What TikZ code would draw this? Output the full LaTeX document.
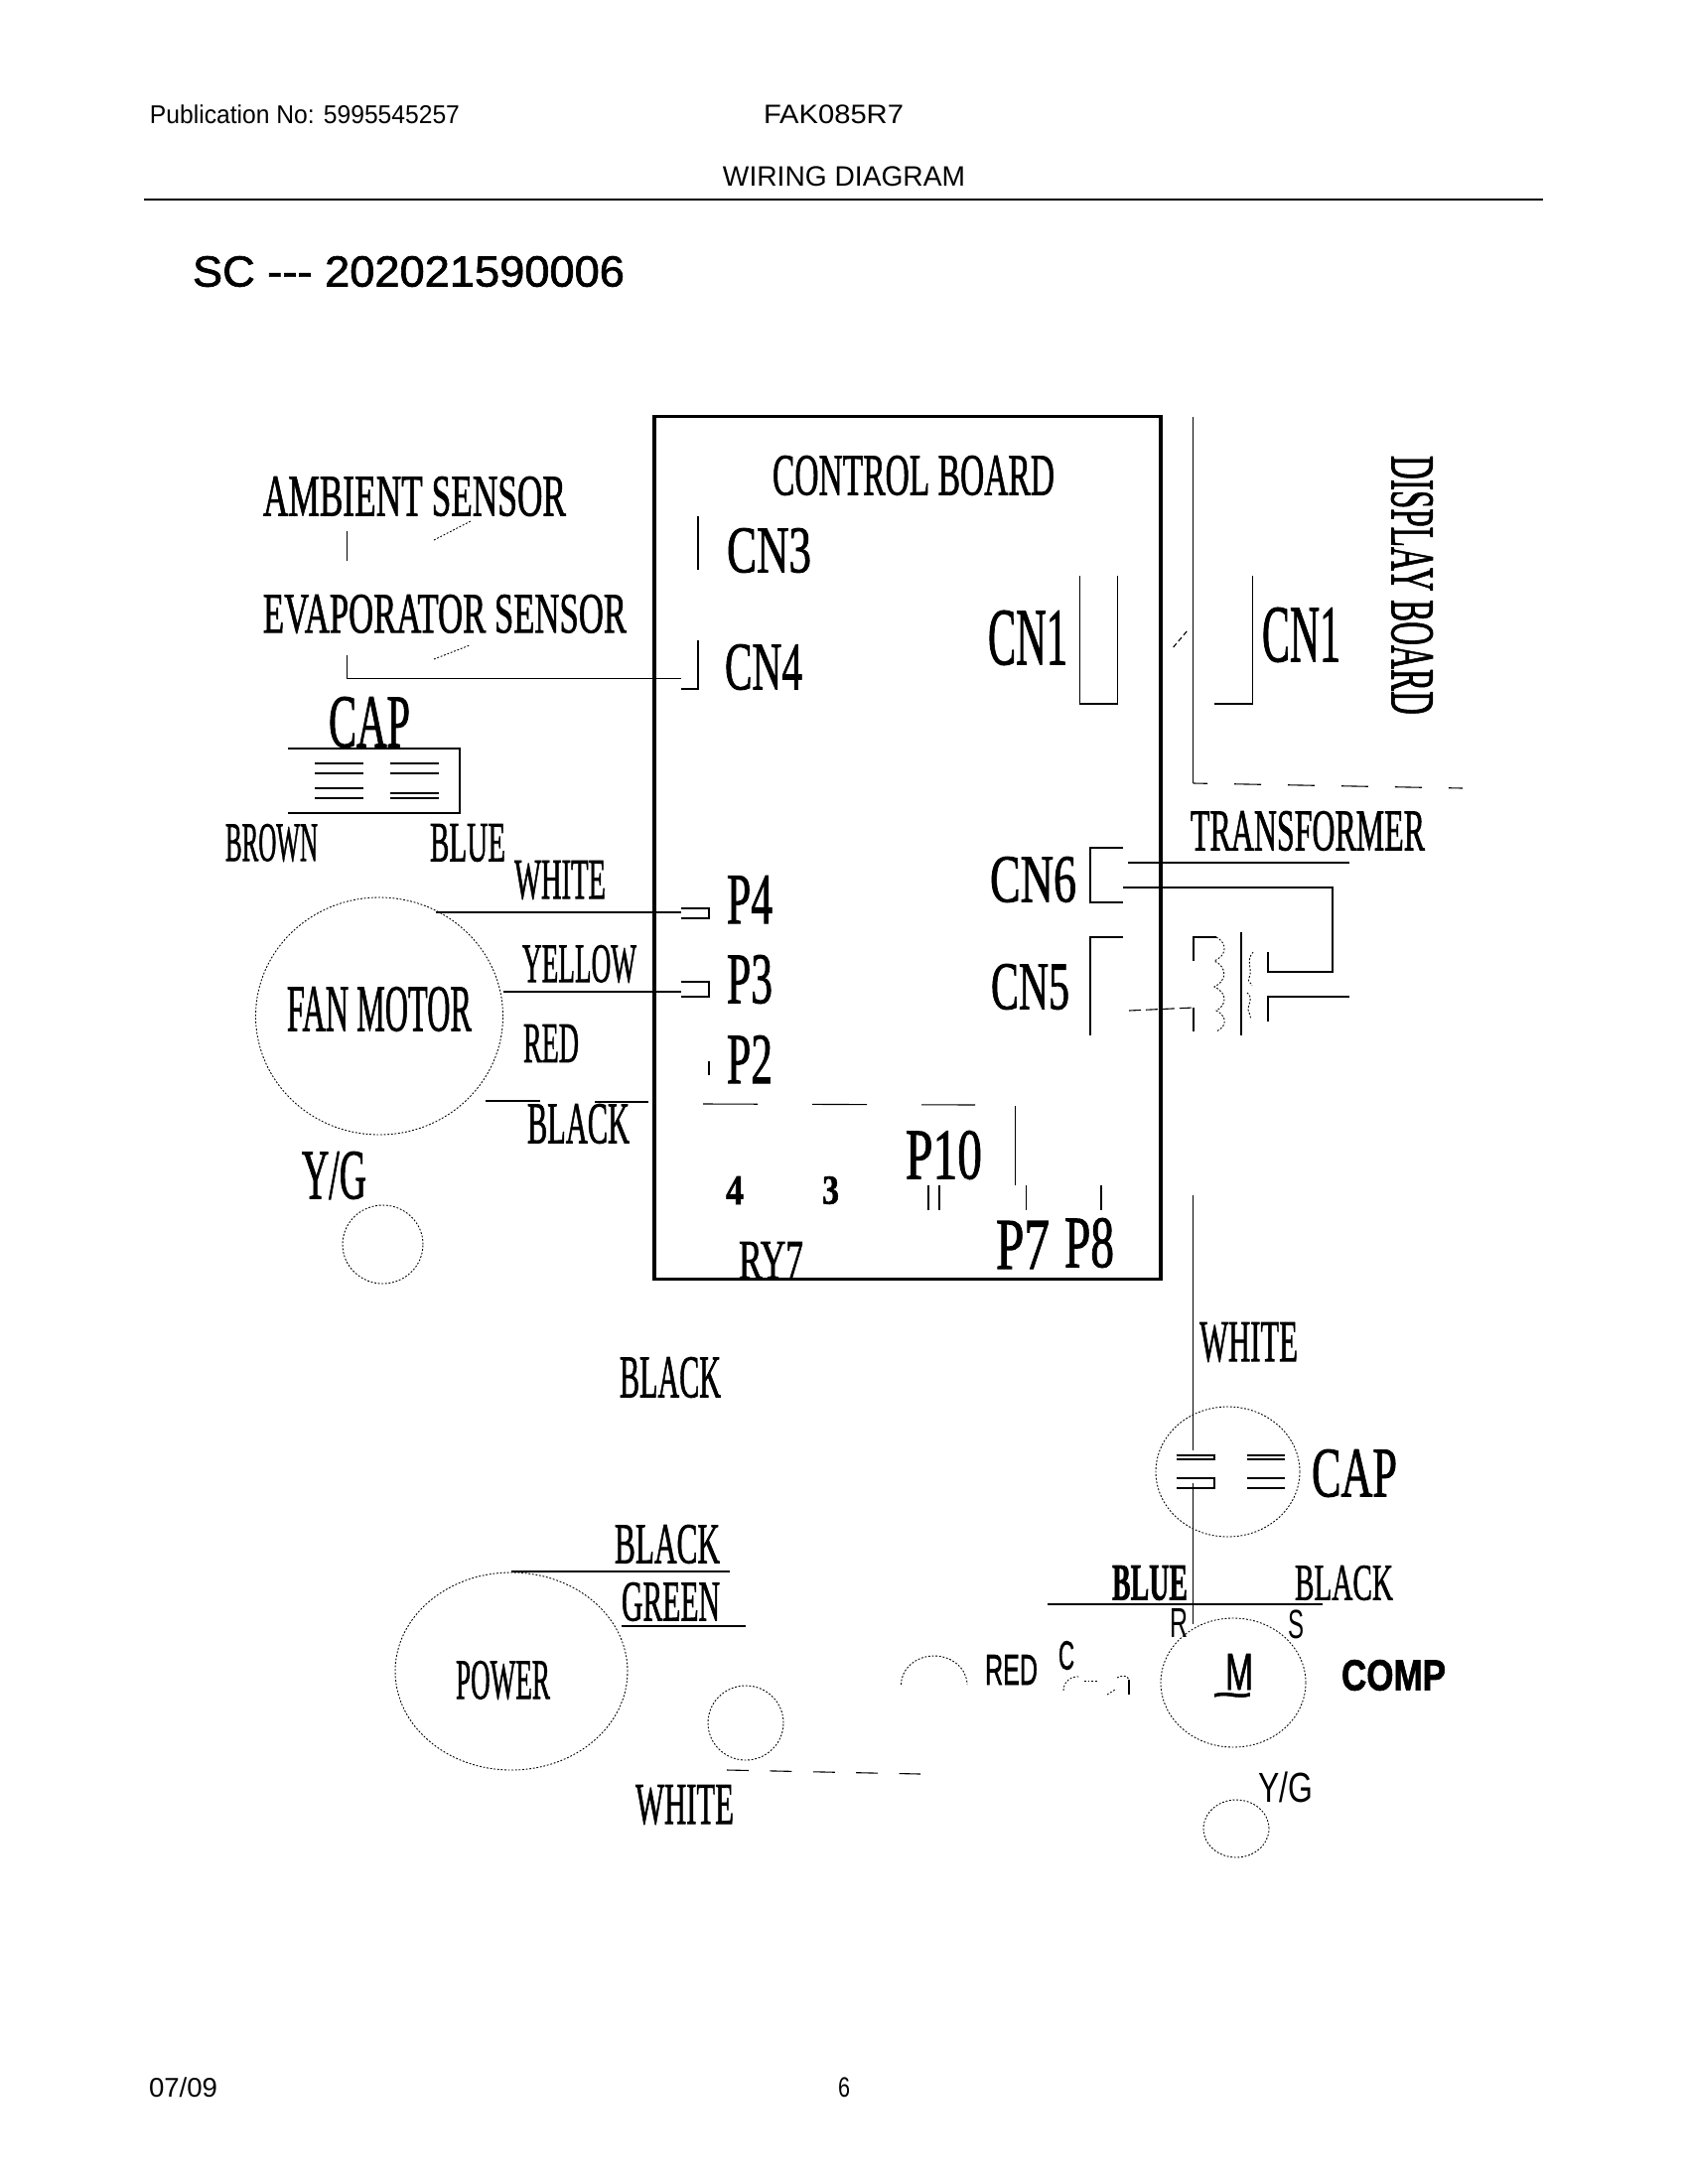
\documentclass[tikz,border=0pt]{standalone}
\usepackage{fontspec}
\usepackage{graphicx}
\setmainfont[FakeBold=1.4]{Liberation Serif}
\newfontfamily\hdr{Liberation Sans}
\newfontfamily\hdrb[FakeBold=1.5]{Liberation Sans}
\usetikzlibrary{shapes.geometric}
\tikzset{
  txt/.style={inner sep=0pt,outer sep=0pt},
  wire/.style={line width=1.1pt,line cap=butt},
  dot/.style={line width=0.9pt,dash pattern=on 1.8pt off 1.8pt},
  circ/.style={ellipse,draw,line width=0.9pt,dash pattern=on 1.8pt off 1.8pt,inner sep=0pt,outer sep=0pt},
}
\newcommand{\lbl}[6]{%
  \pgfmathsetlengthmacro\lblw{#4-(#2)}%
  \pgfmathsetlengthmacro\lblh{#5-(#3)}%
  \node[txt] (#1) at ({(#2+#4)/2},{(#3+#5)/2}) {\resizebox*{\lblw}{\lblh}{#6}};}
\begin{document}
\begin{tikzpicture}[x=1pt,y=-1pt]
\useasboundingbox (0,0) rectangle (1700,2200);
\fill[white] (0,0) rectangle (1700,2200);
% header and footer
\lbl{pub}{151}{106}{463}{125}{\hdr Publication No: 5995545257}
\lbl{model}{769}{106}{910}{125}{\hdr FAK085R7}
\lbl{title}{728}{168}{972}{188}{\hdr WIRING DIAGRAM}
\coordinate (ruleL) at (145,200.7);
\coordinate (ruleR) at (1554,200.7);
\draw[line width=2pt] (ruleL) -- (ruleR);
\lbl{sc}{194}{258}{629}{289}{\hdrb SC --- 202021590006}
\lbl{date}{150}{2093}{219}{2113}{\hdr 07/09}
\lbl{page}{844}{2093}{856}{2113}{\hdr 6}
% control board
\node[draw,line width=3.5pt,minimum width=510pt,minimum height=869pt,inner sep=0pt,outer sep=0pt] (board) at (914,854) {};
\lbl{ctl}{778}{459}{1062}{499}{CONTROL BOARD}
\lbl{cn3}{732}{532}{817}{577}{CN3}
\lbl{cn4}{730}{649}{808}{695}{CN4}
\lbl{cn1a}{995}{615}{1075}{670}{CN1}
\lbl{cn6}{997}{863}{1084}{909}{CN6}
\lbl{cn5}{998}{971}{1077}{1017}{CN5}
\lbl{p4}{732}{882}{778}{930}{P4}
\lbl{p3}{732}{962}{778}{1011}{P3}
\lbl{p2}{732}{1043}{778}{1091}{P2}
\lbl{p10}{912}{1139}{989}{1188}{P10}
\lbl{p7}{1003}{1230}{1057}{1278}{P7}
\lbl{p8}{1072}{1227}{1122}{1277}{P8}
\lbl{n4}{731}{1185}{749}{1213}{\bfseries 4}
\lbl{n3}{828}{1185}{845}{1213}{\bfseries 3}
\lbl{ry7}{744}{1251}{809}{1288}{RY7}
% sensors
\lbl{amb}{265}{480}{570}{520}{AMBIENT SENSOR}
\lbl{eva}{265}{599}{631}{638}{EVAPORATOR SENSOR}
\coordinate (s1a) at (349.3,535); \coordinate (s1b) at (349.3,565);
\draw[wire] (s1a) -- (s1b);
\coordinate (s2a) at (437,544); \coordinate (s2b) at (474,525);
\draw[dot] (s2a) -- (s2b);
\coordinate (s3a) at (437,664); \coordinate (s3b) at (473,650);
\draw[dot] (s3a) -- (s3b);
\coordinate (evaW) at (349.3,660);
\coordinate (cn4W) at (686,683.5);
\draw[wire] (evaW) |- (cn4W);
\coordinate (cn4a) at (686,694); \coordinate (cn4b) at (703,645);
\draw[wire] (cn4a) -| (cn4b);
\coordinate (cn3a) at (703,520); \coordinate (cn3b) at (703,574);
\draw[wire] (cn3a) -- (cn3b);
% fan capacitor
\lbl{capa}{331}{702}{413}{753}{CAP}
\coordinate (fc1) at (290,754); \coordinate (fc2) at (463,754);
\coordinate (fc3) at (463,819); \coordinate (fc4) at (290,819);
\draw[wire] (fc1) -- (fc2) -- (fc3) -- (fc4);
\foreach \yy in {769,779,794,804} {\draw[wire] (317,\yy) -- (366,\yy);}
\foreach \yy in {769,779,799,804} {\draw[wire] (393,\yy) -- (442,\yy);}
\lbl{brown}{227}{830}{320}{868}{BROWN}
\lbl{blue}{433}{830}{509}{868}{BLUE}
\lbl{white}{518}{867}{610}{906}{WHITE}
\lbl{yellow}{526}{952}{641}{990}{YELLOW}
\lbl{red}{527}{1032}{583}{1070}{RED}
\lbl{black}{531}{1112}{634}{1152}{BLACK}
% fan motor
\node[circ,minimum width=249pt,minimum height=239pt] (fan) at (382,1023.5) {};
\lbl{fantxt}{289}{994}{475}{1039}{FAN MOTOR}
\coordinate (p4w) at (686,919);
\coordinate (p3w) at (686,999);
\draw[wire] (fan.62 |- p4w) -- (p4w);
\draw[wire] (fan.east |- p3w) -- (p3w);
\coordinate (p4c1) at (686,915); \coordinate (p4c2) at (714,915);
\coordinate (p4c3) at (714,925); \coordinate (p4c4) at (686,925);
\draw[wire] (p4c1) -- (p4c2) -- (p4c3) -- (p4c4);
\coordinate (p3c1) at (686,989); \coordinate (p3c2) at (714,989);
\coordinate (p3c3) at (714,1004); \coordinate (p3c4) at (686,1004);
\draw[wire] (p3c1) -- (p3c2) -- (p3c3) -- (p3c4);
\coordinate (p2a) at (714,1069); \coordinate (p2b) at (714,1083);
\draw[wire] (p2a) -- (p2b);
\coordinate (bk1) at (489,1109); \coordinate (bk2) at (544,1109);
\draw[wire] (bk1) -- (bk2);
\coordinate (bk3) at (599,1110); \coordinate (bk4) at (653,1110);
\draw[wire] (bk3) -- (bk4);
\coordinate (row1) at (708,1112); \coordinate (row2) at (982,1113);
\draw[wire,dash pattern=on 55pt off 55pt] (row1) -- (row2);
\coordinate (v1) at (1022.5,1114); \coordinate (v2) at (1022.5,1194);
\draw[wire] (v1) -- (v2);
\foreach \xx in {935,946,1033.5,1109} {\draw[wire] (\xx,1194) -- (\xx,1219);}
% fan ground
\lbl{yg1}{304}{1160}{369}{1208}{Y/G}
\node[circ,minimum width=81pt,minimum height=79pt] (gnd1) at (385.5,1253.5) {};
% display board
\coordinate (cn1a1) at (1087.5,580); \coordinate (cn1a2) at (1087.5,709);
\coordinate (cn1a3) at (1125.5,709); \coordinate (cn1a4) at (1125.5,580);
\draw[wire] (cn1a1) -- (cn1a2) -- (cn1a3) -- (cn1a4);
\coordinate (dg1) at (1181.6,652); \coordinate (dg2) at (1196,635);
\draw[wire,dash pattern=on 5pt off 3pt] (dg1) -- (dg2);
\coordinate (dsp1) at (1201.6,420); \coordinate (dsp2) at (1201.6,789);
\draw[wire] (dsp1) -- (dsp2);
\coordinate (dsp3) at (1473,794);
\draw[wire,dash pattern=on 27pt off 27pt,dash phase=12.6pt] (dsp2) -- (dsp3);
\coordinate (cn1b1) at (1223,709); \coordinate (cn1b2) at (1261.6,580);
\draw[wire] (cn1b1) -| (cn1b2);
\lbl{cn1b}{1271}{612}{1350}{667}{CN1}
\node[txt,rotate=-90] (disp) at (1422,589.5) {\resizebox*{261pt}{42pt}{DISPLAY BOARD}};
% transformer
\lbl{trans}{1199}{817}{1435}{857}{TRANSFORMER}
\coordinate (cn6a) at (1131,854); \coordinate (cn6b) at (1098,909); \coordinate (cn6c) at (1131,909);
\draw[wire] (cn6a) -| (cn6b) -- (cn6c);
\coordinate (t1a) at (1136,869); \coordinate (t1b) at (1359,869);
\draw[wire] (t1a) -- (t1b);
\coordinate (t2a) at (1131,894); \coordinate (t2b) at (1342,894);
\coordinate (t2c) at (1342,979); \coordinate (t2d) at (1277,979); \coordinate (t2e) at (1277,959);
\draw[wire] (t2a) -- (t2b) -- (t2c) -- (t2d) -- (t2e);
\coordinate (t3a) at (1359,1004); \coordinate (t3b) at (1277,1004); \coordinate (t3c) at (1277,1029);
\draw[wire] (t3a) -- (t3b) -- (t3c);
\coordinate (cn5a) at (1131,944); \coordinate (cn5b) at (1098,1043);
\draw[wire] (cn5a) -| (cn5b);
\coordinate (t4a) at (1137,1018); \coordinate (t4b) at (1202,1015); \coordinate (t4c) at (1202,1039);
\draw[wire,dash pattern=on 12pt off 5pt] (t4a) -- (t4b);
\draw[wire] (t4b) -- (t4c);
\coordinate (t5a) at (1202,968); \coordinate (t5b) at (1202,944); \coordinate (t5c) at (1225,944);
\draw[wire] (t5a) -- (t5b) -- (t5c);
\draw[dot] (t5c) .. controls (1236,950) and (1236,962) .. (1223,968)
  .. controls (1236,974) and (1236,988) .. (1223,994)
  .. controls (1236,1000) and (1236,1012) .. (1225,1018)
  .. controls (1236,1024) and (1236,1034) .. (1225,1039);
\coordinate (core1) at (1250,939); \coordinate (core2) at (1250,1043);
\draw[wire] (core1) -- (core2);
\draw[dot] (1262,959) .. controls (1254,968) and (1262,976) .. (1258,985)
  .. controls (1256,990) and (1259,988) .. (1261,993);
\draw[dot] (1256,1000) .. controls (1264,1006) and (1254,1014) .. (1258,1020) -- (1260,1027);
% power
\lbl{blk0}{624}{1367}{726}{1408}{BLACK}
\lbl{blk1}{619}{1536}{725}{1575}{BLACK}
\lbl{grn}{626}{1594}{725}{1633}{GREEN}
\node[circ,minimum width=234pt,minimum height=199pt] (pow) at (515,1683.5) {};
\lbl{powtxt}{459}{1673}{554}{1712}{POWER}
\coordinate (pw1) at (735,1583);
\draw[wire] (pow.north |- pw1) -- (pw1);
\coordinate (pw2a) at (626,1638); \coordinate (pw2b) at (751,1638);
\draw[wire] (pw2a) -- (pw2b);
\node[circ,minimum width=76pt,minimum height=75pt] (gnd2) at (751,1735.5) {};
\coordinate (wd1) at (732,1783); \coordinate (wd2) at (927,1787);
\draw[wire,dash pattern=on 22pt off 21.4pt] (wd1) -- (wd2);
\lbl{wht2}{640}{1798}{739}{1838}{WHITE}
\draw[dot] (907.5,1697) arc[start angle=180,end angle=360,x radius=33.25,y radius=29] ;
% compressor capacitor
\lbl{wht3}{1208}{1332}{1307}{1372}{WHITE}
\node[circ,minimum width=145pt,minimum height=131pt] (capc) at (1236.5,1482.5) {};
\lbl{capb}{1321}{1460}{1407}{1508}{CAP}
\coordinate (cw1) at (1201.5,1204); \coordinate (cw2) at (1201.5,1461);
\draw[wire] (cw1) -- (cw2);
\coordinate (cw3) at (1201.5,1494); 
\coordinate (p1) at (1185,1466); \coordinate (p2) at (1223,1466);
\coordinate (p3) at (1223,1470); \coordinate (p4) at (1185,1470);
\draw[wire] (p1) -- (p2) -- (p3) -- (p4);
\coordinate (q1) at (1185,1489); \coordinate (q2) at (1223,1489);
\coordinate (q3) at (1223,1499); \coordinate (q4) at (1185,1499);
\draw[wire] (q1) -- (q2) -- (q3) -- (q4);
\foreach \yy in {1466,1470,1489,1499} {\draw[wire] (1256,\yy) -- (1294,\yy);}
% compressor
\lbl{blu2}{1120}{1577}{1196}{1612}{\bfseries BLUE}
\lbl{blk3}{1304}{1577}{1403}{1612}{BLACK}
\lbl{rterm}{1178}{1620}{1196}{1649}{\hdr R}
\lbl{sterm}{1297}{1622}{1313}{1651}{\hdr S}
\lbl{cterm}{1066}{1653}{1082}{1682}{\hdrb C}
\lbl{red2}{992}{1667}{1045}{1697}{\hdrb RED}
\node[circ,minimum width=146pt,minimum height=130pt] (comp) at (1242,1695) {};
\lbl{mtxt}{1234}{1666}{1262}{1702}{\hdrb M}
\lbl{til}{1221}{1705}{1261}{1717}{\hdrb\bfseries \char"7E}
\lbl{comptxt}{1351}{1672}{1456}{1703}{\hdrb\bfseries COMP}
\draw[wire] (cw3) -- (comp.118 -| cw3);
\coordinate (cl1) at (1055,1616); \coordinate (cl2) at (1331.6,1616);
\draw[wire] (cl1) -- (cl2);
\draw[dot] (1071,1703) .. controls (1071,1693) and (1080,1688) .. (1087,1689);
\draw[dot] (1092,1693) -- (1106,1693);
\draw[dot] (1115,1707) -- (1123,1702);
\draw[dot] (1125,1690) .. controls (1130,1687) and (1136,1688) .. (1137,1692);
\draw[wire] (1137,1692) -- (1137,1707);
\lbl{yg2}{1267}{1785}{1322}{1816}{\hdr Y/G}
\node[circ,minimum width=66pt,minimum height=58pt] (gnd3) at (1245,1842) {};
\end{tikzpicture}
\end{document}
